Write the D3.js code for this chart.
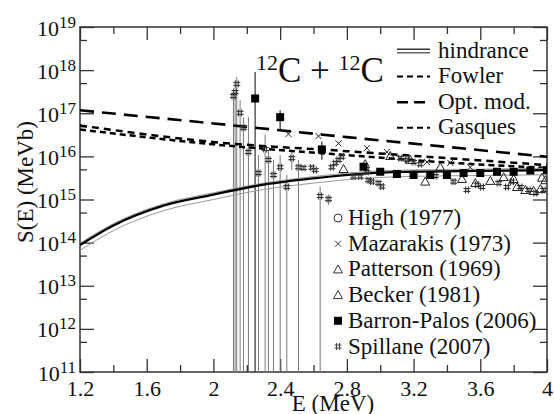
<!DOCTYPE html>
<html>
<head>
<meta charset="utf-8">
<script src="https://d3js.org/d3.v7.min.js"></script>
<title>12C + 12C S-factor</title>
<style>
body { margin: 0; background: #fff; }
svg { display: block; }
svg text { font-family: "Liberation Serif", "Times New Roman", "DejaVu Serif", serif !important; }
</style>
</head>
<body>
<svg width="554" height="414"></svg>
<script>

// ---- values ----
const xMajor = [1.2, 1.6, 2.0, 2.4, 2.8, 3.2, 3.6, 4.0];
const xMinor = [1.4, 1.8, 2.2, 2.6, 3.0, 3.4, 3.8];
const yMajor = [1e11, 1e12, 1e13, 1e14, 1e15, 1e16, 1e17, 1e18, 1e19];
const yMinor = [5e11, 5e12, 5e13, 5e14, 5e15, 5e16, 5e17, 5e18];

// hindrance curve and its band
const hindE  = [1.2, 1.4, 1.7, 2.0, 2.3, 2.6, 2.9, 3.2, 3.6, 4.0];
const hindS  = [8.8e13, 2.5e14, 7.2e14, 1.3e15, 2.2e15, 3.1e15, 4.0e15, 4.4e15, 4.6e15, 4.8e15];
const hindHi = [9.7e13, 2.75e14, 7.9e14, 1.43e15, 2.4e15, 3.4e15, 4.4e15, 4.85e15, 5.05e15, 5.3e15];
const hindLo = [6.6e13, 1.9e14, 5.5e14, 1.0e15, 1.7e15, 2.4e15, 3.1e15, 3.45e15, 3.6e15, 3.75e15];

const modelE   = [1.2, 2.0, 2.8, 3.4, 4.0];
const fowlerS  = [5.2e16, 2.15e16, 1.32e16, 9.1e15, 6.3e15];
const optS     = [1.17e17, 5.8e16, 2.8e16, 1.66e16, 9.8e15];
const gasquesS = [4.2e16, 1.9e16, 1.07e16, 7.2e15, 5.4e15];

// data sets
const highE = [];
const highS = [];

const mazE = [2.45, 2.63, 2.75, 2.92, 3.04, 3.28, 3.42, 3.54];
const mazS = [3.3e16, 2.95e16, 2.0e16, 1.55e16, 1.26e16, 7.4e15, 7.1e15, 5.6e15];

const patE = [2.78, 2.91, 3.06, 3.18, 3.36, 3.74, 3.97];
const patS = [5.1e15, 6.6e15, 1.02e16, 8.3e15, 5.6e15, 3.3e15, 3.2e15];

const beckE = [3.27, 3.49, 3.57, 3.66, 3.80, 3.82, 3.87, 3.92, 3.96, 3.99];
const beckS = [2.6e15, 3.0e15, 2.4e15, 2.7e15, 3.0e15, 1.95e15, 1.66e15, 1.58e15, 1.74e15, 2.8e15];

const bpE  = [2.25, 2.40, 2.65, 2.9, 3.0, 3.1, 3.2, 3.3, 3.4, 3.5, 3.6, 3.7, 3.8, 3.9, 4.0];
const bpS  = [2.2e17, 8.1e16, 1.45e16, 5.75e15, 4.4e15, 3.9e15, 3.7e15, 3.7e15, 3.7e15, 4.1e15, 4.1e15, 4.4e15, 4.4e15, 4.7e15, 4.8e15];
const bpHi = [9.0e17, 1.17e17, 2.2e16, 6.3e15, 4.8e15, 4.3e15, 4.1e15, 4.1e15, 4.1e15, 4.5e15, 4.5e15, 4.8e15, 4.8e15, 5.1e15, 5.2e15];
const bpLo = [1e10, 4.1e16, 8.3e15, 5.2e15, 4.0e15, 3.5e15, 3.3e15, 3.3e15, 3.3e15, 3.7e15, 3.7e15, 4.0e15, 4.0e15, 4.3e15, 4.4e15];

const spE  = [2.12, 2.13, 2.14, 2.16, 2.18, 2.21, 2.27, 2.31, 2.33, 2.36, 2.40, 2.44, 2.47, 2.51,
              2.54, 2.59, 2.61, 2.64, 2.69, 2.71, 2.73, 2.75, 2.77, 2.84, 2.88, 2.92, 2.93, 2.95,
              2.99, 3.01, 3.12, 3.16, 3.20, 3.24, 3.33, 3.44, 3.52, 3.58, 3.61, 3.71, 3.76, 3.79,
              3.84, 3.89, 3.93, 3.98];
const spS  = [2.5e17, 3.1e17, 4.8e17, 1.02e17, 4.6e16, 1.26e16, 4.1e15, 1.48e16, 8.3e15, 3.7e15, 5.6e15, 1.95e15, 9.1e15, 5.6e15,
              5.4e15, 5.5e15, 4.8e15, 1.2e15, 1.02e15, 5.6e15, 7.0e15, 8.3e15, 9.8e15, 3.4e15, 3.4e15, 4.4e15, 2.8e15, 2.6e15,
              2.4e15, 2.0e15, 9.1e15, 8.3e15, 7.4e15, 6.6e15, 3.5e15, 2.6e15, 1.66e15, 2.2e15, 1.95e15, 2.4e15, 1.95e15, 2.6e15,
              1.95e15, 1.66e15, 1.41e15, 1.66e15];
const spHi = [3.5e17, 4.3e17, 6.9e17, 2.0e17, 8.1e16, 8.1e16, 1.07e16, 3.2e16, 1.4e16, 8.3e15, 1.07e16, 3.7e15, 1.4e16, 8.3e15,
              6.2e15, 6.3e15, 5.5e15, 2.0e15, 1.3e15, 6.4e15, 8.0e15, 9.5e15, 1.12e16, 3.9e15, 3.9e15, 5.0e15, 3.2e15, 3.0e15,
              2.8e15, 2.3e15, 1.04e16, 9.5e15, 8.5e15, 7.6e15, 4.0e15, 3.0e15, 1.9e15, 2.5e15, 2.2e15, 2.8e15, 2.2e15, 3.0e15,
              2.2e15, 1.9e15, 1.6e15, 1.9e15];
const spLo = [1e10, 1e10, 1e10, 1e10, 1e10, 1e10, 1e10, 1e10, 1e10, 1e10, 1e10, 1e10, 4.8e15, 1e10,
              4.7e15, 4.8e15, 4.2e15, 1e10, 0.75e15, 4.9e15, 6.1e15, 7.2e15, 8.5e15, 3.0e15, 3.0e15, 3.8e15, 2.4e15, 2.2e15,
              2.1e15, 1.7e15, 7.9e15, 7.2e15, 6.4e15, 5.7e15, 3.0e15, 2.2e15, 1.45e15, 1.9e15, 1.7e15, 2.1e15, 1.7e15, 2.2e15,
              1.7e15, 1.45e15, 1.22e15, 1.45e15];

const topLegend = ["hindrance", "Fowler", "Opt. mod.", "Gasques"];
const dataLegend = ["High (1977)", "Mazarakis (1973)", "Patterson (1969)", "Becker (1981)", "Barron-Palos (2006)", "Spillane (2007)"];

// ---- layout ----
let plotL = 80, plotR = 547, plotT = 27, plotB = 372;
let serif = "'Liberation Serif', 'Times New Roman', serif";
let svg = d3.select("svg").attr("font-family", serif);

let x = d3.scaleLinear().domain([1.2, 4]).range([plotL, plotR]);
let y = d3.scaleLog().domain([1e11, 1e19]).range([plotB, plotT]);

svg.append("clipPath").attr("id", "plot")
  .append("rect").attr("x", plotL).attr("y", plotT)
  .attr("width", plotR - plotL).attr("height", plotB - plotT);

let axisColor = "#333";

function styleAxis(g) {
  g.attr("font-family", serif);
  g.select(".domain").remove();
  g.selectAll(".tick line").attr("stroke", axisColor).attr("stroke-width", 1.3);
}

// x axes (bottom with labels, top ticks only)
svg.append("g").attr("transform", "translate(0," + plotB + ")")
  .call(d3.axisBottom(x).tickValues(xMajor).tickSize(-13).tickSizeOuter(0).tickPadding(8)
    .tickFormat(function(d){ return String(+d.toFixed(1)); }))
  .call(styleAxis)
  .selectAll("text").attr("font-size", 22).attr("fill", "#111");
svg.append("g").attr("transform", "translate(0," + plotB + ")")
  .call(d3.axisBottom(x).tickValues(xMinor).tickSize(-7).tickSizeOuter(0).tickFormat(""))
  .call(styleAxis);
svg.append("g").attr("transform", "translate(0," + plotT + ")")
  .call(d3.axisTop(x).tickValues(xMajor).tickSize(-13).tickSizeOuter(0).tickFormat(""))
  .call(styleAxis);
svg.append("g").attr("transform", "translate(0," + plotT + ")")
  .call(d3.axisTop(x).tickValues(xMinor).tickSize(-7).tickSizeOuter(0).tickFormat(""))
  .call(styleAxis);

// y axes
let yLeft = svg.append("g").attr("transform", "translate(" + plotL + ",0)")
  .call(d3.axisLeft(y).tickValues(yMajor).tickSize(-14).tickSizeOuter(0).tickPadding(4).tickFormat(""))
  .call(styleAxis);
yLeft.selectAll(".tick text").each(function(d) {
  let t = d3.select(this).attr("dy", null).attr("y", 8).attr("fill", "#111");
  t.append("tspan").attr("font-size", 22).text("10");
  t.append("tspan").attr("font-size", 17).attr("dy", -8).text(Math.round(Math.log10(d)));
});
svg.append("g").attr("transform", "translate(" + plotL + ",0)")
  .call(d3.axisLeft(y).tickValues(yMinor).tickSize(-7).tickSizeOuter(0).tickFormat(""))
  .call(styleAxis);
svg.append("g").attr("transform", "translate(" + plotR + ",0)")
  .call(d3.axisRight(y).tickValues(yMajor).tickSize(-14).tickSizeOuter(0).tickFormat(""))
  .call(styleAxis);
svg.append("g").attr("transform", "translate(" + plotR + ",0)")
  .call(d3.axisRight(y).tickValues(yMinor).tickSize(-7).tickSizeOuter(0).tickFormat(""))
  .call(styleAxis);

// frame
svg.append("rect").attr("x", plotL).attr("y", plotT)
  .attr("width", plotR - plotL).attr("height", plotB - plotT)
  .attr("fill", "none").attr("stroke", axisColor).attr("stroke-width", 1.5);

// axis titles
svg.append("text").attr("x", 333).attr("y", 411).attr("text-anchor", "middle")
  .attr("font-size", 23).attr("fill", "#111").text("E (MeV)");
svg.append("text").attr("transform", "translate(33,182) rotate(-90)").attr("text-anchor", "middle")
  .attr("font-size", 23).attr("fill", "#111").text("S(E) (MeVb)");

// title
let title = svg.append("text").attr("x", 256).attr("y", 82).attr("fill", "#111");
title.append("tspan").attr("font-size", 22).attr("dy", -12).text("12");
title.append("tspan").attr("font-size", 35).attr("dy", 12).text("C + ");
title.append("tspan").attr("font-size", 22).attr("dy", -12).text("12");
title.append("tspan").attr("font-size", 35).attr("dy", 12).text("C");

// ---- plot contents ----
let plot = svg.append("g").attr("clip-path", "url(#plot)");

function pairs(xs, ys) { return xs.map(function(e, i){ return [e, ys[i]]; }); }
let line = d3.line().x(function(d){ return x(d[0]); }).y(function(d){ return y(d[1]); })
  .curve(d3.curveMonotoneX);

// Spillane error bars
let spData = spE.map(function(e, i){ return {e: e, s: spS[i], hi: spHi[i], lo: spLo[i]}; });
plot.selectAll("line.sperr").data(spData).enter().append("line")
  .attr("class", "sperr")
  .attr("x1", function(d){ return x(d.e); }).attr("x2", function(d){ return x(d.e); })
  .attr("y1", function(d){ return y(d.hi); }).attr("y2", function(d){ return Math.min(y(d.lo), plotB + 5); })
  .attr("stroke", "#7a7a7a").attr("stroke-width", 1);

// Barron-Palos error bars
let bpData = bpE.map(function(e, i){ return {e: e, s: bpS[i], hi: bpHi[i], lo: bpLo[i]}; });
plot.selectAll("line.bperr").data(bpData).enter().append("line")
  .attr("class", "bperr")
  .attr("x1", function(d){ return x(d.e); }).attr("x2", function(d){ return x(d.e); })
  .attr("y1", function(d){ return y(d.hi); }).attr("y2", function(d){ return Math.min(y(d.lo), plotB + 5); })
  .attr("stroke", "#333").attr("stroke-width", 1.2);

// model curves
plot.append("path").datum(pairs(modelE, optS)).attr("d", line)
  .attr("fill", "none").attr("stroke", "#000").attr("stroke-width", 2.6).attr("stroke-dasharray", "14,8");
plot.append("path").datum(pairs(modelE, fowlerS)).attr("d", line)
  .attr("fill", "none").attr("stroke", "#000").attr("stroke-width", 2.5).attr("stroke-dasharray", "7,5");
plot.append("path").datum(pairs(modelE, gasquesS)).attr("d", line)
  .attr("fill", "none").attr("stroke", "#000").attr("stroke-width", 2.5).attr("stroke-dasharray", "6,4");

plot.append("path").datum(pairs(hindE, hindHi)).attr("d", line)
  .attr("fill", "none").attr("stroke", "#999").attr("stroke-width", 1);
plot.append("path").datum(pairs(hindE, hindLo)).attr("d", line)
  .attr("fill", "none").attr("stroke", "#999").attr("stroke-width", 1);
plot.append("path").datum(pairs(hindE, hindS)).attr("d", line)
  .attr("fill", "none").attr("stroke", "#000").attr("stroke-width", 2.3);

// markers
function hashPath(cx, cy) {
  return "M" + (cx - 1.5) + "," + (cy - 3.5) + "v7M" + (cx + 1.5) + "," + (cy - 3.5) + "v7" +
         "M" + (cx - 3.5) + "," + (cy - 1.5) + "h7M" + (cx - 3.5) + "," + (cy + 1.5) + "h7";
}
function crossPath(cx, cy) {
  return "M" + (cx - 3) + "," + (cy - 3) + "L" + (cx + 3) + "," + (cy + 3) +
         "M" + (cx - 3) + "," + (cy + 3) + "L" + (cx + 3) + "," + (cy - 3);
}
function triPath(cx, cy) {
  return "M" + cx + "," + (cy - 4.5) + "L" + (cx + 4.5) + "," + (cy + 3.5) + "L" + (cx - 4.5) + "," + (cy + 3.5) + "Z";
}

plot.selectAll("path.sp").data(spData).enter().append("path").attr("class", "sp")
  .attr("d", function(d){ return hashPath(x(d.e), y(d.s)); })
  .attr("fill", "none").attr("stroke", "#333").attr("stroke-width", 1);

plot.selectAll("path.maz").data(pairs(mazE, mazS)).enter().append("path").attr("class", "maz")
  .attr("d", function(d){ return crossPath(x(d[0]), y(d[1])); })
  .attr("fill", "none").attr("stroke", "#222").attr("stroke-width", 1);

plot.selectAll("path.pat").data(pairs(patE, patS)).enter().append("path").attr("class", "pat")
  .attr("d", function(d){ return triPath(x(d[0]), y(d[1])); })
  .attr("fill", "none").attr("stroke", "#222").attr("stroke-width", 1);

plot.selectAll("path.beck").data(pairs(beckE, beckS)).enter().append("path").attr("class", "beck")
  .attr("d", function(d){ return triPath(x(d[0]), y(d[1])); })
  .attr("fill", "none").attr("stroke", "#222").attr("stroke-width", 1);

plot.selectAll("circle.high").data(pairs(highE, highS)).enter().append("circle").attr("class", "high")
  .attr("cx", function(d){ return x(d[0]); }).attr("cy", function(d){ return y(d[1]); })
  .attr("r", 4).attr("fill", "none").attr("stroke", "#333");

plot.selectAll("rect.bp").data(bpData).enter().append("rect").attr("class", "bp")
  .attr("x", function(d){ return x(d.e) - 4; }).attr("y", function(d){ return y(d.s) - 4; })
  .attr("width", 8).attr("height", 8).attr("fill", "#000");

// ---- legends ----
let legTop = svg.append("g");
let topStyles = [null, {w: 2, dash: "6,4"}, {w: 2.6, dash: "11,6"}, {w: 2, dash: "6,4"}];
topLegend.forEach(function(name, i) {
  let by = 57.5 + i * 25.6;
  let ly = by - 6.5;
  if (i === 0) {
    legTop.append("line").attr("x1", 397).attr("x2", 430).attr("y1", ly - 1.7).attr("y2", ly - 1.7)
      .attr("stroke", "#333").attr("stroke-width", 1.5);
    legTop.append("line").attr("x1", 397).attr("x2", 430).attr("y1", ly + 1.7).attr("y2", ly + 1.7)
      .attr("stroke", "#666").attr("stroke-width", 1.5);
  } else {
    legTop.append("line").attr("x1", 397).attr("x2", 430).attr("y1", ly).attr("y2", ly)
      .attr("stroke", "#000").attr("stroke-width", topStyles[i].w).attr("stroke-dasharray", topStyles[i].dash);
  }
  legTop.append("text").attr("x", 438).attr("y", by).attr("font-size", 23).attr("fill", "#111").text(name);
});

let legData = svg.append("g");
dataLegend.forEach(function(name, i) {
  let by = 225 + i * 25.7;
  let cx = 338, cy = by - 7;
  if (i === 0) {
    legData.append("circle").attr("cx", cx).attr("cy", cy).attr("r", 4)
      .attr("fill", "none").attr("stroke", "#333").attr("stroke-width", 1);
  } else if (i === 1) {
    legData.append("path").attr("d", crossPath(cx, cy)).attr("fill", "none").attr("stroke", "#333");
  } else if (i === 2 || i === 3) {
    legData.append("path").attr("d", triPath(cx, cy)).attr("fill", "none").attr("stroke", "#333");
  } else if (i === 4) {
    legData.append("rect").attr("x", cx - 4).attr("y", cy - 4).attr("width", 8).attr("height", 8).attr("fill", "#000");
  } else {
    legData.append("path").attr("d", hashPath(cx, cy)).attr("fill", "none").attr("stroke", "#444");
  }
  legData.append("text").attr("x", 348).attr("y", by).attr("font-size", 23).attr("fill", "#111").text(name);
});

</script>
</body>
</html>
